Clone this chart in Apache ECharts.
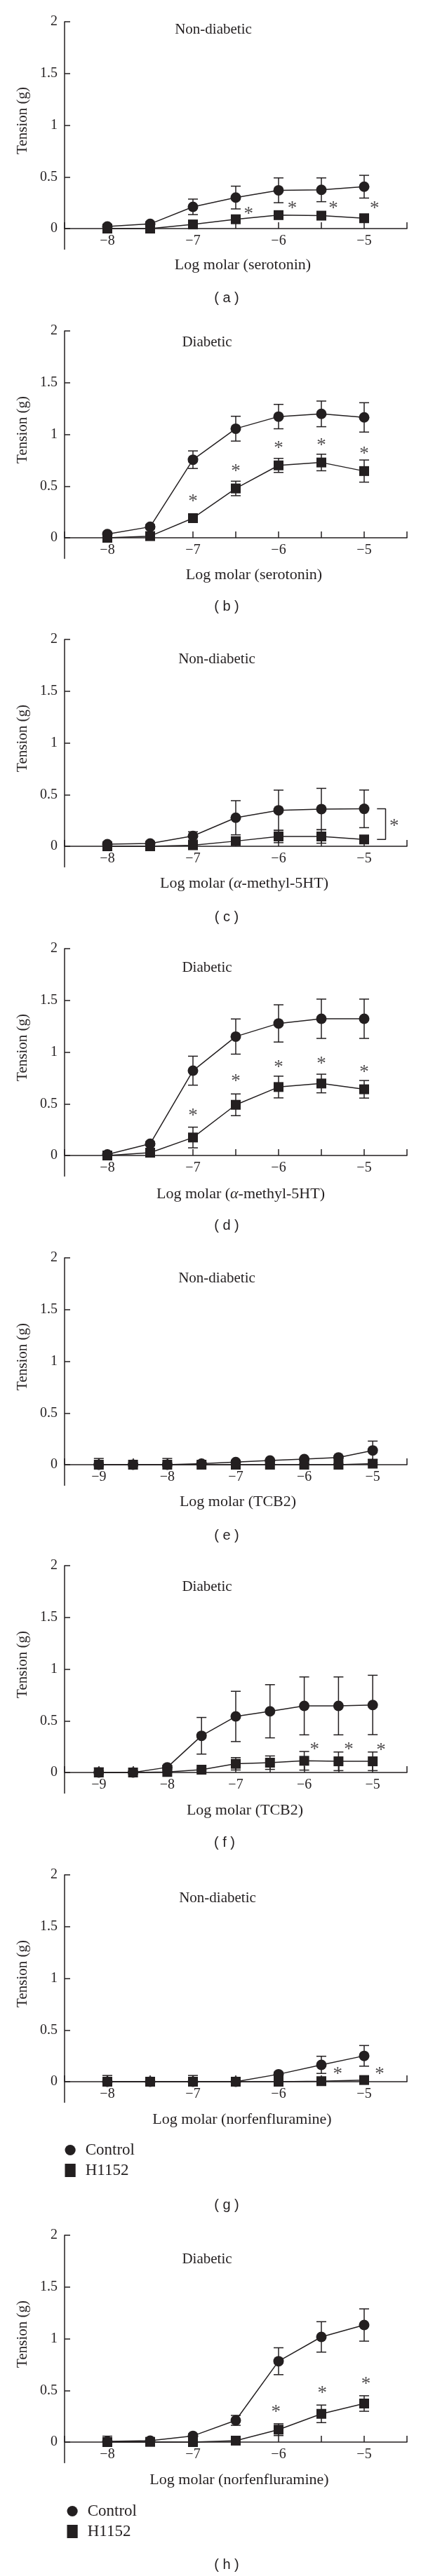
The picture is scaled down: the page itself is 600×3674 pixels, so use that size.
<!DOCTYPE html>
<html><head><meta charset="utf-8">
<script src="https://cdn.jsdelivr.net/npm/echarts@6/dist/echarts.min.js"></script>
<style>html,body{margin:0;padding:0;background:#fff}#c{width:600px;height:3674px}</style>
</head><body><div id="c"></div>
<script>
// ---------------- data ----------------
const xSerotonin = [-8, -7.5, -7, -6.5, -6, -5.5, -5];
const xTCB2 = [-9, -8.5, -8, -7.5, -7, -6.5, -6, -5.5, -5];
const xTicksSerotonin = [-8, -7, -6, -5];
const xTicksTCB2 = [-9, -8, -7, -6, -5];
const yTicks = [0, 0.5, 1, 1.5, 2];

const panelTitles = ['Non-diabetic', 'Diabetic', 'Non-diabetic', 'Diabetic', 'Non-diabetic', 'Diabetic', 'Non-diabetic', 'Diabetic'];
const xAxisTitles = ['Log molar (serotonin)', 'Log molar (serotonin)', 'Log molar ({a|α}-methyl-5HT)', 'Log molar ({a|α}-methyl-5HT)', 'Log molar (TCB2)', 'Log molar (TCB2)', 'Log molar (norfenfluramine)', 'Log molar (norfenfluramine)'];
const yAxisTitle = 'Tension (g)';
const panelLabels = ['( a )', '( b )', '( c )', '( d )', '( e )', '( f )', '( g )', '( h )'];
const seriesNames = ['Control', 'H1152'];

// (a) serotonin, non-diabetic
const ctrlA = [0.02, 0.045, 0.21, 0.30, 0.37, 0.375, 0.405];
const ctrlSemA = [0.02, 0.02, 0.075, 0.11, 0.12, 0.115, 0.11];
const h1152A = [0, 0, 0.04, 0.09, 0.13, 0.125, 0.10];
const h1152SemA = [0.01, 0.01, 0.02, 0.02, 0.03, 0.03, 0.03];
const starsA = [[-6.35, 0.18], [-5.84, 0.23], [-5.36, 0.23], [-4.88, 0.23]];
// (b) serotonin, diabetic
const ctrlB = [0.035, 0.106, 0.755, 1.055, 1.172, 1.198, 1.164];
const ctrlSemB = [0.02, 0.02, 0.085, 0.12, 0.118, 0.124, 0.142];
const h1152B = [0, 0.016, 0.19, 0.477, 0.70, 0.728, 0.645];
const h1152SemB = [0.01, 0.02, 0.03, 0.07, 0.068, 0.08, 0.107];
const starsB = [[-7.0, 0.39], [-6.5, 0.68], [-6.0, 0.9], [-5.5, 0.93], [-5.0, 0.85]];
// (c) alpha-methyl-5HT, non-diabetic
const ctrlC = [0.02, 0.027, 0.10, 0.276, 0.348, 0.36, 0.362];
const ctrlSemC = [0.02, 0.02, 0.04, 0.165, 0.195, 0.2, 0.182];
const h1152C = [0, 0, 0.01, 0.05, 0.095, 0.095, 0.066];
const h1152SemC = [0.01, 0.01, 0.01, 0.02, 0.06, 0.065, 0.03];
const starsC = [[-4.65, 0.23]];
const bracketC = [[-4.85, 0.362], [-4.75, 0.362], [-4.75, 0.066], [-4.85, 0.066]];
// (d) alpha-methyl-5HT, diabetic
const ctrlD = [0.01, 0.113, 0.82, 1.15, 1.277, 1.322, 1.322];
const ctrlSemD = [0.02, 0.02, 0.14, 0.17, 0.18, 0.19, 0.19];
const h1152D = [0, 0.027, 0.174, 0.49, 0.662, 0.696, 0.64];
const h1152SemD = [0.01, 0.02, 0.1, 0.105, 0.105, 0.09, 0.085];
const starsD = [[-7.0, 0.42], [-6.5, 0.75], [-6.0, 0.89], [-5.5, 0.92], [-5.0, 0.84]];
// (e) TCB2, non-diabetic
const ctrlE = [0, 0, 0, 0.01, 0.025, 0.04, 0.054, 0.07, 0.138];
const ctrlSemE = [0.06, 0.01, 0.06, 0.01, 0.01, 0.01, 0.01, 0.01, 0.09];
const h1152E = [0, 0, 0, 0, 0, 0, 0, 0, 0.01];
const h1152SemE = [0.01, 0.01, 0.01, 0.01, 0.01, 0.01, 0.01, 0.01, 0.01];
const starsE = [];
// (f) TCB2, diabetic
const ctrlF = [0, 0, 0.05, 0.355, 0.542, 0.592, 0.644, 0.644, 0.653];
const ctrlSemF = [0.045, 0.01, 0.02, 0.177, 0.243, 0.257, 0.28, 0.28, 0.287];
const h1152F = [0, 0, 0.005, 0.027, 0.084, 0.095, 0.113, 0.108, 0.108];
const h1152SemF = [0.01, 0.01, 0.01, 0.01, 0.06, 0.065, 0.09, 0.09, 0.09];
const starsF = [[-5.85, 0.26], [-5.35, 0.26], [-4.88, 0.25]];
// (g) norfenfluramine, non-diabetic
const ctrlG = [0, 0, 0, 0, 0.072, 0.163, 0.25];
const ctrlSemG = [0.06, 0.01, 0.06, 0.01, 0.02, 0.083, 0.1];
const h1152G = [0, 0, 0, 0, 0, 0.005, 0.016];
const h1152SemG = [0.01, 0.01, 0.01, 0.01, 0.01, 0.01, 0.01];
const starsG = [[-5.31, 0.106], [-4.82, 0.106]];
// (h) norfenfluramine, diabetic
const ctrlH = [0.007, 0.014, 0.06, 0.21, 0.782, 1.017, 1.132];
const ctrlSemH = [0.05, 0.02, 0.02, 0.048, 0.13, 0.147, 0.156];
const h1152H = [0, 0.002, 0, 0.014, 0.12, 0.273, 0.373];
const h1152SemH = [0.01, 0.01, 0.01, 0.01, 0.057, 0.085, 0.075];
const starsH = [[-6.03, 0.323], [-5.49, 0.51], [-4.98, 0.6]];

// ---------------- layout / style ----------------
const INK = '#231f20';
const SERIF = '"Liberation Serif","Times New Roman",serif';
const SANS = '"Liberation Sans",Arial,sans-serif';
const TOPS = [31, 472, 912, 1353, 1794, 2233, 2674, 3188];
const GRID_H = 324.5;          // value 2 .. -0.2
const ZERO_OFFSET = -29.5;      // x axis drawn at value 0 (0.2 units above grid bottom)
const titlePos = [[304, 42], [295, 488], [309, 940], [295, 1380], [309, 1823], [295, 2263], [310, 2707], [295, 3222]];
const xTitlePos = [[346, 378], [362, 820], [348, 1260], [343, 1703], [339, 2142], [349, 2582], [345, 3023], [341, 3537]];
const labelPos = [[323, 425], [323, 865], [323, 1308], [323, 1748], [323, 2190], [320, 2628], [323, 3145], [323, 3658]];

const panels = [
  {x: xSerotonin, xt: xTicksSerotonin, xmin: -8.5, c: ctrlA, cs: ctrlSemA, h: h1152A, hs: h1152SemA, st: starsA},
  {x: xSerotonin, xt: xTicksSerotonin, xmin: -8.5, c: ctrlB, cs: ctrlSemB, h: h1152B, hs: h1152SemB, st: starsB},
  {x: xSerotonin, xt: xTicksSerotonin, xmin: -8.5, c: ctrlC, cs: ctrlSemC, h: h1152C, hs: h1152SemC, st: starsC, br: bracketC},
  {x: xSerotonin, xt: xTicksSerotonin, xmin: -8.5, c: ctrlD, cs: ctrlSemD, h: h1152D, hs: h1152SemD, st: starsD},
  {x: xTCB2, xt: xTicksTCB2, xmin: -9.5, c: ctrlE, cs: ctrlSemE, h: h1152E, hs: h1152SemE, st: starsE},
  {x: xTCB2, xt: xTicksTCB2, xmin: -9.5, c: ctrlF, cs: ctrlSemF, h: h1152F, hs: h1152SemF, st: starsF},
  {x: xSerotonin, xt: xTicksSerotonin, xmin: -8.5, c: ctrlG, cs: ctrlSemG, h: h1152G, hs: h1152SemG, st: starsG},
  {x: xSerotonin, xt: xTicksSerotonin, xmin: -8.5, c: ctrlH, cs: ctrlSemH, h: h1152H, hs: h1152SemH, st: starsH}
];

function errRender(params, api) {
  const x = api.value(0), lo = api.value(1), hi = api.value(2);
  const pLo = api.coord([x, lo]), pHi = api.coord([x, hi]);
  const w = 7;
  const st = {stroke: INK, lineWidth: 1.5, fill: null};
  return {type: 'group', children: [
    {type: 'line', shape: {x1: pLo[0], y1: pLo[1], x2: pHi[0], y2: pHi[1]}, style: st},
    {type: 'line', shape: {x1: pHi[0] - w, y1: pHi[1], x2: pHi[0] + w, y2: pHi[1]}, style: st},
    {type: 'line', shape: {x1: pLo[0] - w, y1: pLo[1], x2: pLo[0] + w, y2: pLo[1]}, style: st}
  ]};
}

const grid = [], xAxis = [], yAxis = [], series = [], graphic = [];
panels.forEach((p, i) => {
  grid.push({left: 92, width: 488, top: TOPS[i], height: GRID_H, containLabel: false, outerBoundsMode: 'none'});
  xAxis.push({
    gridIndex: i, type: 'value', min: p.xmin, max: -4.5, interval: 0.5, position: 'bottom', offset: ZERO_OFFSET,
    splitLine: {show: false},
    axisLine: {show: true, onZero: false, lineStyle: {color: INK, width: 1.5}},
    axisTick: {show: true, inside: true, length: 9, lineStyle: {color: INK, width: 1.5}},
    axisLabel: {show: true, customValues: p.xt, margin: 8, color: INK, fontFamily: SERIF, fontSize: 20,
      formatter: v => Number.isInteger(v) ? '\u2212' + Math.abs(v) : ''}
  });
  yAxis.push({
    gridIndex: i, type: 'value', min: -0.2, max: 2,
    splitLine: {show: false},
    axisLine: {show: true, onZero: false, lineStyle: {color: INK, width: 1.5}},
    axisTick: {show: true, inside: true, length: 8, customValues: yTicks, lineStyle: {color: INK, width: 1.5}},
    axisLabel: {show: true, customValues: yTicks, margin: 10, color: INK, fontFamily: SERIF, fontSize: 20,
      formatter: v => String(v)}
  });
  const errC = p.c.map((v, j) => [p.x[j], Math.max(0, v - p.cs[j]), v + p.cs[j]]);
  const errH = p.h.map((v, j) => [p.x[j], Math.max(0, v - p.hs[j]), v + p.hs[j]]);
  series.push({type: 'custom', xAxisIndex: i, yAxisIndex: i, renderItem: errRender, data: errC, encode: {x: 0, y: [1, 2]}, z: 1, silent: true});
  series.push({type: 'custom', xAxisIndex: i, yAxisIndex: i, renderItem: errRender, data: errH, encode: {x: 0, y: [1, 2]}, z: 1, silent: true});
  series.push({name: seriesNames[0], type: 'line', xAxisIndex: i, yAxisIndex: i, data: p.x.map((x, j) => [x, p.c[j]]),
    symbol: 'circle', symbolSize: 15, showSymbol: true, lineStyle: {color: INK, width: 1.5}, itemStyle: {color: INK}, z: 3});
  series.push({name: seriesNames[1], type: 'line', xAxisIndex: i, yAxisIndex: i, data: p.x.map((x, j) => [x, p.h[j]]),
    symbol: 'rect', symbolSize: 14, showSymbol: true, lineStyle: {color: INK, width: 1.5}, itemStyle: {color: INK}, z: 4});
  if (p.st.length) series.push({type: 'scatter', xAxisIndex: i, yAxisIndex: i, data: p.st, symbolSize: 2,
    itemStyle: {color: 'rgba(0,0,0,0)'}, silent: true, z: 5,
    label: {show: true, position: 'inside', formatter: '*', offset: [0, 6], color: INK, fontFamily: SERIF, fontSize: 27}});
  if (p.br) series.push({type: 'line', xAxisIndex: i, yAxisIndex: i, data: p.br, symbol: 'none',
    lineStyle: {color: INK, width: 1.5}, z: 2, silent: true});

  graphic.push({type: 'text', x: titlePos[i][0], y: titlePos[i][1],
    style: {text: panelTitles[i], fontFamily: SERIF, fontSize: 21, fill: INK, align: 'center', verticalAlign: 'middle'}});
  graphic.push({type: 'text', x: xTitlePos[i][0], y: xTitlePos[i][1],
    style: {text: xAxisTitles[i], fontFamily: SERIF, fontSize: 22, fill: INK, align: 'center', verticalAlign: 'middle',
      rich: {a: {fontFamily: SERIF, fontSize: 22, fontStyle: 'italic', fill: INK}}}});
  graphic.push({type: 'text', x: 32.5, y: TOPS[i] + 141, rotation: Math.PI / 2,
    style: {text: yAxisTitle, fontFamily: SERIF, fontSize: 21, fill: INK, align: 'center', verticalAlign: 'middle'}});
  graphic.push({type: 'text', x: labelPos[i][0], y: labelPos[i][1],
    style: {text: panelLabels[i], fontFamily: SANS, fontSize: 20, fill: INK, align: 'center', verticalAlign: 'middle'}});
});

const legendBase = {
  orient: 'vertical', padding: 0, itemWidth: 15.2, itemHeight: 19, itemGap: 6, selectedMode: false,
  data: [{name: 'Control', icon: 'circle'}, {name: 'H1152', icon: 'rect'}],
  lineStyle: {width: 0, opacity: 0},
  textStyle: {fontFamily: SERIF, fontSize: 23, color: INK, padding: [0, 0, 0, 9]}
};

const chart = echarts.init(document.getElementById('c'), null, {renderer: 'canvas'});
chart.setOption({
  animation: false,
  backgroundColor: '#fff',
  grid, xAxis, yAxis, series, graphic,
  legend: [
    Object.assign({}, legendBase, {left: 92.5, top: 3055}),
    Object.assign({}, legendBase, {left: 95.5, top: 3570})
  ]
});
</script></body></html>
